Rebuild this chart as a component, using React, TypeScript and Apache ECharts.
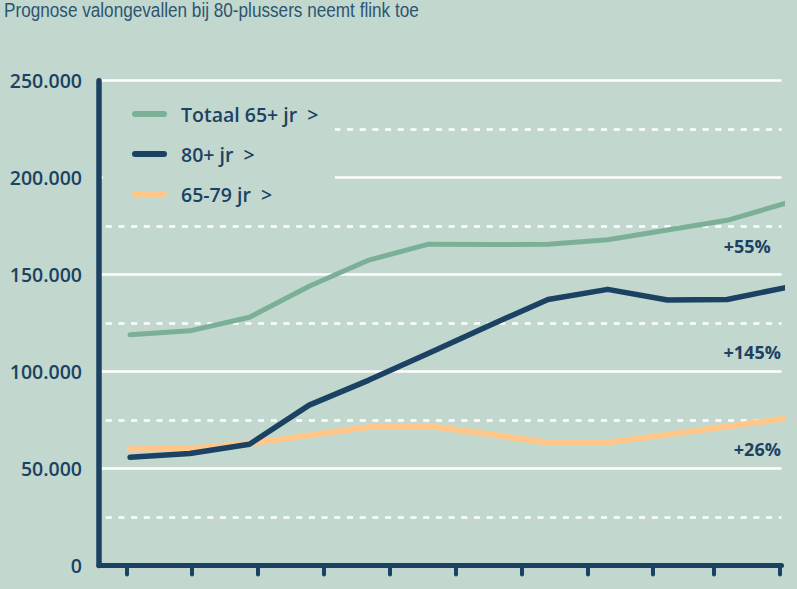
import React, { useEffect, useRef } from "react";
import * as echarts from "echarts";

const periods = [0, 1, 2, 3, 4, 5, 6, 7, 8, 9, 10, 11];
const totaal65 = [119000, 121000, 128000, 144000, 157500, 165700, 165500, 165700, 168000, 173000, 178000, 187000];
const plus80 = [55800, 57800, 62500, 82700, 95600, 109500, 123500, 137200, 142400, 136900, 137200, 143400];
const age6579 = [59900, 60200, 63000, 67100, 71400, 71900, 67800, 63300, 63500, 67500, 71700, 75900];
const seriesNames = ["Totaal 65+ jr  >", "80+ jr  >", "65-79 jr  >"];
const changeLabels = ["+55%", "+145%", "+26%"];
const changeLabelValues = [164900, 110200, 59900];
const yTicks = [0, 50000, 100000, 150000, 200000, 250000];
const titleText = "Prognose valongevallen bij 80-plussers neemt flink toe";

const NAVY = "#1b4262";
const GREEN = "#7cb096";
const ORANGE = "#ffc88a";
const BG = "#c2d8cf";
const FONT = "'Open Sans', 'Noto Sans', sans-serif";

const pillIcon = "path://M3,0 L32,0 A3,3 0 0 1 32,6 L3,6 A3,3 0 0 1 3,0 Z";

export default function App() {
  const ref = useRef<HTMLDivElement>(null);
  useEffect(() => {
    document.body.style.margin = "0";
    const chart = echarts.init(ref.current!, null, { renderer: "svg" });
    const pairs = (vals: number[]) => periods.map((p, i) => [p, vals[i]]);
    const pctMark = (idx: number, xPos: number) => ({
      symbol: "circle",
      symbolSize: 0,
      silent: true,
      data: [
        {
          coord: [xPos, changeLabelValues[idx]],
          label: {
            show: true,
            formatter: changeLabels[idx],
            position: [0, 0],
            align: "right",
            verticalAlign: "middle",
            color: NAVY,
            fontFamily: FONT,
            fontWeight: 700,
            fontSize: 18,
          },
        },
      ],
    });
    const lineBase = (name: string, color: string, width: number, vals: number[], z: number) => ({
      name,
      type: "line",
      data: pairs(vals),
      showSymbol: false,
      symbol: "none",
      clip: false,
      z,
      color,
      itemStyle: { color },
      lineStyle: { color, width, cap: "round", join: "round" },
    });
    chart.setOption({
      animation: false,
      backgroundColor: BG,
      grid: { left: 99, right: 15.5, top: 80.7, bottom: 23.5, containLabel: false },
      legend: {
        orient: "vertical",
        left: 132,
        top: 104,
        padding: 0,
        itemWidth: 35,
        itemHeight: 6,
        itemGap: 20,
        icon: pillIcon,
        selectedMode: false,
        data: seriesNames,
        textStyle: {
          color: NAVY,
          fontFamily: FONT,
          fontWeight: 600,
          fontSize: 19.5,
          lineHeight: 20,
          padding: [0, 0, 0, 9],
        },
      },
      graphic: [
        {
          type: "rect",
          z: 1,
          silent: true,
          shape: { x: 103, y: 95, width: 232, height: 116 },
          style: { fill: BG },
        },
        {
          type: "text",
          z: 5,
          silent: true,
          x: 4,
          y: 10,
          scaleX: 0.88,
          style: {
            text: titleText,
            fill: "#2d5471",
            font: "normal 19.5px 'Liberation Sans', Arial, sans-serif",
            verticalAlign: "middle",
            align: "left",
          },
        },
      ],
      xAxis: {
        type: "value",
        min: -0.52,
        max: 10.91,
        z: 3,
        axisLine: { show: true, onZero: false, lineStyle: { color: NAVY, width: 5, cap: "round" } },
        axisTick: {
          show: true,
          customValues: [-0.05, 1.04, 2.14, 3.25, 4.35, 5.46, 6.56, 7.67, 8.76, 9.78, 10.88],
          length: 9,
          lineStyle: { color: NAVY, width: 4, cap: "round" },
        },
        axisLabel: { show: false },
        splitLine: { show: false },
      },
      yAxis: {
        type: "value",
        min: yTicks[0],
        max: yTicks[yTicks.length - 1],
        interval: 50000,
        axisLine: { show: true, onZero: false, lineStyle: { color: NAVY, width: 5.5, cap: "round" } },
        axisTick: { show: false },
        minorTick: { show: false, splitNumber: 2 },
        axisLabel: {
          margin: 17,
          color: NAVY,
          fontFamily: FONT,
          fontWeight: 600,
          fontSize: 19.5,
          formatter: (v: number) => (v === 0 ? "0" : `${v / 1000}.000`),
        },
        splitLine: { show: true, lineStyle: { color: "#ffffff", width: 2.5 } },
        minorSplitLine: {
          show: true,
          lineStyle: { color: "#ffffff", width: 2.5, type: [6, 6.7], dashOffset: 6 },
        },
      },
      series: [
        { ...lineBase(seriesNames[2], ORANGE, 6, age6579, 2), markPoint: pctMark(2, 10.9) },
        { ...lineBase(seriesNames[0], GREEN, 5, totaal65, 3), markPoint: pctMark(0, 10.73) },
        { ...lineBase(seriesNames[1], NAVY, 5.5, plus80, 4), markPoint: pctMark(1, 10.9) },
      ],
    });
    return () => chart.dispose();
  }, []);
  return <div ref={ref} style={{ width: 797, height: 589, background: BG }} />;
}
